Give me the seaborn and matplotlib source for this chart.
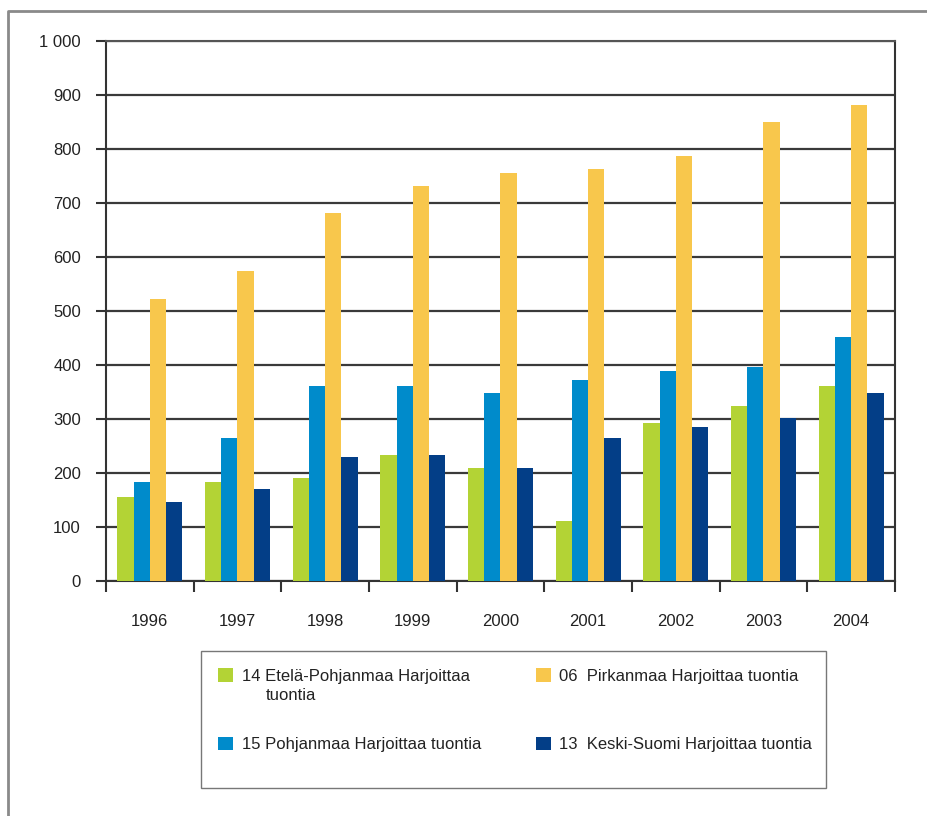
import matplotlib
matplotlib.use("Agg")
import matplotlib.pyplot as plt
import matplotlib.ticker as mticker
from matplotlib.lines import Line2D
from matplotlib.patches import Rectangle
import seaborn as sns
import pandas as pd
import numpy as np

# data
years = ["1996", "1997", "1998", "1999", "2000", "2001", "2002", "2003", "2004"]
etela_pohjanmaa = [155, 183, 191, 233, 209, 111, 293, 324, 361]
pohjanmaa = [183, 265, 361, 361, 348, 372, 389, 396, 452]
pirkanmaa = [522, 574, 682, 732, 756, 763, 787, 850, 881]
keski_suomi = [146, 170, 230, 233, 209, 265, 285, 302, 348]

series_names = [
    "14 Etelä-Pohjanmaa Harjoittaa tuontia",
    "15 Pohjanmaa Harjoittaa tuontia",
    "06  Pirkanmaa Harjoittaa tuontia",
    "13  Keski-Suomi Harjoittaa tuontia",
]
series_colors = ["#B3D335", "#008BCB", "#F8C74C", "#033E87"]

df = pd.DataFrame({
    "year": years * 4,
    "value": etela_pohjanmaa + pohjanmaa + pirkanmaa + keski_suomi,
    "series": np.repeat(series_names, len(years)),
})

sns.set_style("white")
plt.rcParams["font.family"] = ["Liberation Sans", "DejaVu Sans"]

W, H = 928, 816
fig = plt.figure(figsize=(W / 100, H / 100), dpi=100)
ax = fig.add_axes([106 / W, 1 - 581 / H, 789 / W, 540 / H])

sns.barplot(data=df, x="year", y="value", hue="series", hue_order=series_names,
            palette=series_colors, saturation=1, width=0.74, gap=0,
            linewidth=0, ax=ax, legend=False, zorder=3)

ax.set_xlim(-0.5, len(years) - 0.5)
ax.set_ylim(0, 1000)
ax.set_yticks(np.arange(0, 1001, 100))
ax.yaxis.set_major_formatter(mticker.FuncFormatter(lambda v, p: f"{int(v):,}".replace(",", " ")))
ax.grid(axis="y", color="#3a3a3a", linewidth=1.6, zorder=1)
ax.grid(axis="x", visible=False)

# x ticks at group boundaries, labels at centers
ax.set_xticks(np.arange(-0.5, len(years), 1))
ax.set_xticklabels([])
ax.set_xticks(np.arange(len(years)), minor=True)
ax.set_xticklabels(years, minor=True)
ax.tick_params(axis="x", which="major", direction="out", length=8, width=1.5, color="#333333", bottom=True)
ax.tick_params(axis="x", which="minor", length=0, pad=24, labelsize=12, labelcolor="#222222")
ax.tick_params(axis="y", direction="out", length=7, width=1.5, color="#333333", left=True,
               pad=11, labelsize=12, labelcolor="#222222")
ax.set_xlabel("")
ax.set_ylabel("")

for side in ["left", "right", "top", "bottom"]:
    ax.spines[side].set_visible(True)
    ax.spines[side].set_color("#333333")
    ax.spines[side].set_linewidth(1.5)
ax.spines["top"].set_color("#555555")

# legend box
fig.add_artist(Rectangle((201 / W, 1 - 788 / H), 625 / W, 137 / H, transform=fig.transFigure,
                         facecolor="none", edgecolor="#777777", linewidth=1.0))
handles = [Rectangle((0, 0), 1, 1, facecolor=c, edgecolor="none") for c in series_colors]
# first label wraps onto a second, indented line in the reference
legend_labels = ["14 Etelä-Pohjanmaa Harjoittaa"] + series_names[1:]
fig.legend(handles, legend_labels, loc="upper left", bbox_to_anchor=(210 / W, 1 - 660 / H),
           ncol=2, frameon=False, fontsize=12, handlelength=0.9, handleheight=0.9,
           handletextpad=0.5, columnspacing=3.3, labelspacing=3.15, borderpad=0,
           labelcolor="#222222")
fig.text(266 / W, 1 - 695 / H, "tuontia", fontsize=12, color="#222222", va="center", ha="left")

# outer frame
fig.add_artist(Line2D([8 / W, 8 / W, 1], [0, 1 - 11 / H, 1 - 11 / H], transform=fig.transFigure,
                      color="#8a8a8a", linewidth=2))

fig.savefig("out.png", dpi=100)
